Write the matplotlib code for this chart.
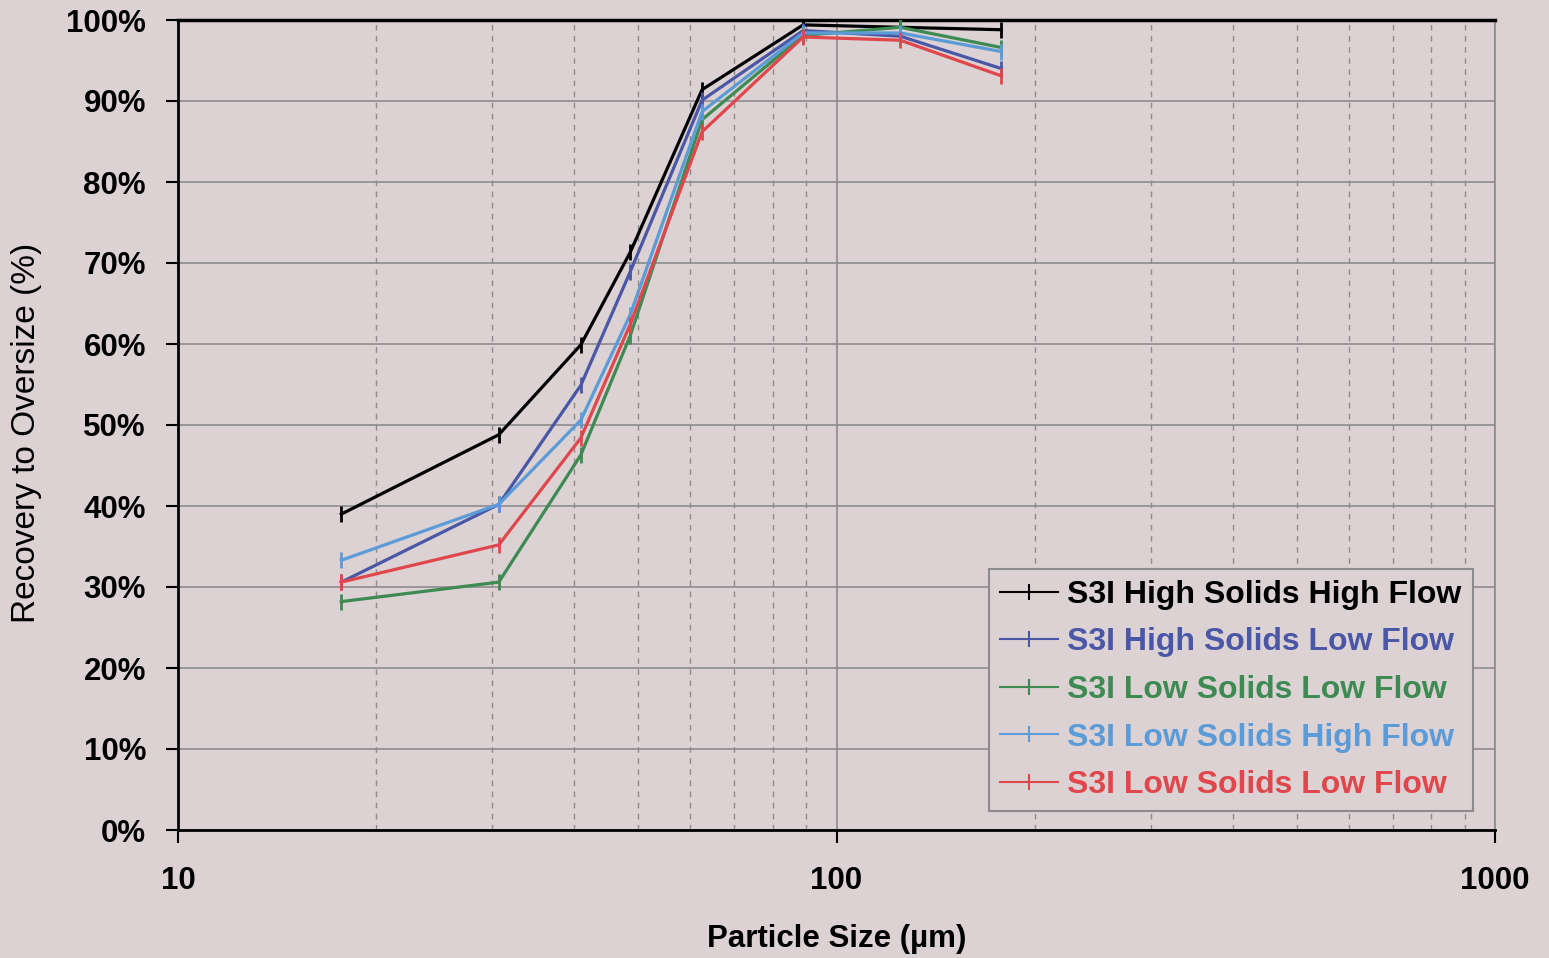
import matplotlib
matplotlib.use("Agg")
import matplotlib.pyplot as plt
from matplotlib.ticker import FixedLocator, NullFormatter, FuncFormatter

sizes = [17.7, 30.7, 40.9, 48.6, 62.5, 89, 125, 178]

series_names = [
    "S3I High Solids High Flow",
    "S3I High Solids Low Flow",
    "S3I Low Solids Low Flow",
    "S3I Low Solids High Flow",
    "S3I Low Solids Low Flow",
]
hs_hf = [39.0, 48.8, 59.9, 71.3, 91.4, 99.4, 99.1, 98.8]
hs_lf = [30.6, 40.2, 54.9, 68.9, 90.1, 98.7, 98.0, 94.0]
ls_lf = [28.2, 30.6, 46.3, 61.0, 87.7, 98.1, 99.1, 96.6]
ls_hf = [33.3, 40.2, 50.6, 63.6, 88.7, 98.4, 98.4, 96.1]
ls_lf2 = [30.6, 35.2, 48.4, 62.4, 86.2, 97.9, 97.5, 93.1]
series = [hs_hf, hs_lf, ls_lf, ls_hf, ls_lf2]
colors = ["#000000", "#4A57A6", "#3D8A52", "#5B9BD8", "#E0474C"]

ytick_vals = list(range(0, 101, 10))
xtick_vals = [10, 100, 1000]

bg = "#DCD1D3"
plt.rcParams['font.family'] = ['Liberation Sans', 'DejaVu Sans']

fig = plt.figure(figsize=(15.49, 9.58), dpi=100, facecolor=bg)
ax = fig.add_axes([178/1549, 1-830/958, (1495-178)/1549, (830-20)/958])
ax.set_facecolor(bg)

for name, vals, c in zip(series_names, series, colors):
    ax.plot(sizes, vals, color=c, lw=2.3, marker='|', ms=11, mew=2.0, label=name, zorder=3)

ax.set_xscale('log')
ax.set_xlim(10, 1000)
ax.set_ylim(0, 100)
ax.xaxis.set_major_locator(FixedLocator(xtick_vals))
ax.xaxis.set_major_formatter(FuncFormatter(lambda v, p: f"{int(v)}"))
minors = [m * d for d in (10, 100) for m in range(2, 10)]
ax.xaxis.set_minor_locator(FixedLocator(minors))
ax.xaxis.set_minor_formatter(NullFormatter())
ax.yaxis.set_major_locator(FixedLocator(ytick_vals))
ax.yaxis.set_major_formatter(FuncFormatter(lambda v, p: f"{int(v)}%"))

ax.grid(True, which='major', axis='y', color='#8C8C8C', lw=1.2, zorder=0)
ax.grid(True, which='major', axis='x', color='#8C8C8C', lw=1.2, zorder=0)
ax.grid(True, which='minor', axis='x', color='#8C8C8C', lw=1.0, ls=(0, (4, 4)), zorder=0)
ax.set_axisbelow(True)

ax.tick_params(axis='both', which='major', direction='out', length=9, width=1.5,
               labelsize=22.5, color='black')
ax.tick_params(axis='y', which='major', pad=14)
ax.tick_params(axis='x', which='major', pad=17)
ax.tick_params(axis='x', which='minor', length=0)
for lab in ax.get_xticklabels() + ax.get_yticklabels():
    lab.set_fontweight('bold')

for s in ('left', 'bottom', 'top'):
    ax.spines[s].set_color('black')
    ax.spines[s].set_linewidth(2.0)
ax.spines['right'].set_color('#8C8C8C')
ax.spines['right'].set_linewidth(1.2)
ax.spines['top'].set_linewidth(2.5)

ax.set_xlabel("Particle Size (µm)", fontsize=22.5, fontweight='bold', labelpad=20)
ax.set_ylabel("Recovery to Oversize (%)", fontsize=24)
ax.yaxis.set_label_coords(-(178-42)/1317, 0.49)

leg = ax.legend(loc='lower right', bbox_to_anchor=(0.983, 0.023),
                prop={'weight': 'bold', 'size': 23}, frameon=True, fancybox=False,
                edgecolor='#8C8C8C', facecolor=bg, framealpha=1.0,
                handlelength=1.8, handletextpad=0.3, labelspacing=0.55,
                borderpad=0.35, borderaxespad=0)
leg.get_frame().set_linewidth(1.5)
for txt, c in zip(leg.get_texts(), colors):
    txt.set_color(c)
for h in leg.legend_handles:
    h.set_linewidth(1.5)
    h.set_markersize(12)
    h.set_markeredgewidth(1.5)

fig.savefig("out.png", dpi=100, facecolor=bg)
